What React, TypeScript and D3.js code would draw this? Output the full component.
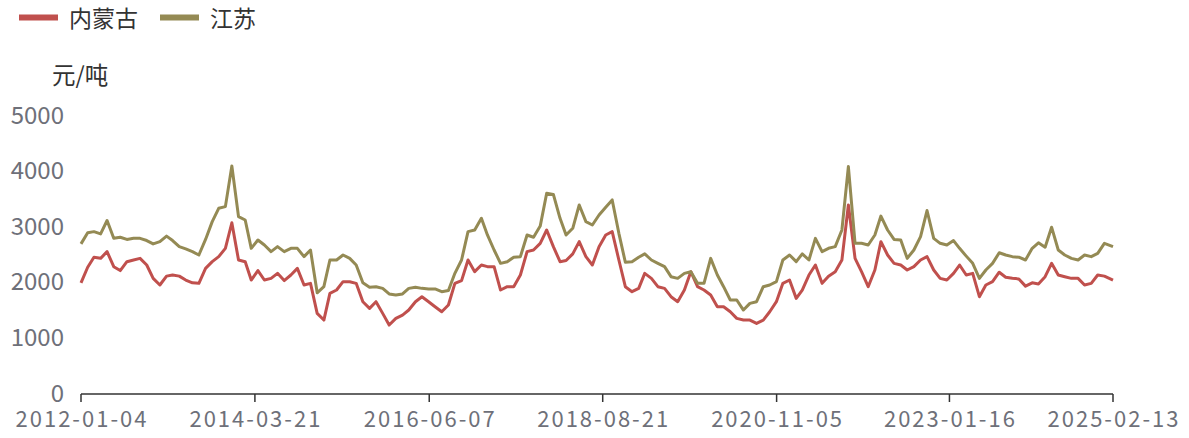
import React from "react";
import * as d3 from "d3";

// monthly samples (4th of each month, 2012-01 .. 2025-01) plus the last day shown
const startDay = new Date(2012, 0, 4);
const lastDay = new Date(2025, 1, 13);
const dates: Date[] = [
  ...d3.timeMonth.range(new Date(2012, 0, 1), new Date(2025, 1, 1)).map(d => new Date(d.getFullYear(), d.getMonth(), 4)),
  lastDay,
];

const seriesNames = ["内蒙古", "江苏"];
const seriesColors = ["#c0504d", "#948a54"];

// 元/吨
const neimenggu = [
  2000, 2280, 2460, 2440, 2560, 2290, 2220, 2380, 2410, 2440, 2320, 2080,
  1960, 2120, 2140, 2120, 2050, 2000, 1990, 2260, 2380, 2470, 2620, 3080,
  2410, 2380, 2050, 2220, 2050, 2080, 2170, 2040, 2140, 2260, 1960, 1990,
  1450, 1330, 1810, 1870, 2020, 2020, 1990, 1660, 1540, 1660, 1450, 1240,
  1360, 1420, 1510, 1660, 1750, 1660, 1570, 1480, 1600, 1990, 2040, 2410,
  2200, 2320, 2290, 2290, 1870, 1930, 1930, 2140, 2560, 2590, 2710, 2950,
  2650, 2380, 2400, 2520, 2740, 2470, 2320, 2650, 2860, 2920, 2410, 1930,
  1840, 1900, 2170, 2080, 1930, 1900, 1750, 1660, 1870, 2200, 1930, 1870,
  1780, 1570, 1570, 1480, 1360, 1330, 1330, 1270, 1330, 1480, 1660, 1990,
  2050, 1720, 1870, 2140, 2320, 1990, 2120, 2200, 2410, 3400, 2440, 2200,
  1930, 2230, 2740, 2500, 2350, 2320, 2230, 2290, 2410, 2470, 2230, 2080,
  2050, 2170, 2320, 2140, 2170, 1750, 1960, 2020, 2190, 2100, 2080, 2070,
  1940, 2000, 1980, 2110, 2350, 2140, 2110, 2080, 2080, 1960, 1990, 2140,
  2120, 2050,
];

const jiangsu = [
  2700, 2900, 2920, 2880, 3120, 2800, 2820, 2780, 2800, 2800, 2760, 2700,
  2740, 2840, 2760, 2650, 2610, 2560, 2500, 2780, 3100, 3340, 3370, 4100,
  3190, 3130, 2620, 2770, 2680, 2560, 2650, 2560, 2620, 2620, 2470, 2590,
  1820, 1930, 2410, 2410, 2500, 2440, 2320, 2000, 1920, 1930, 1900, 1800,
  1780, 1800, 1900, 1920, 1900, 1890, 1890, 1840, 1860, 2170, 2410, 2920,
  2950, 3160, 2860, 2590, 2350, 2380, 2460, 2470, 2860, 2820, 3020, 3610,
  3590, 3160, 2860, 2980, 3400, 3100, 3040, 3220, 3360, 3490, 2890, 2370,
  2380, 2460, 2520, 2410, 2350, 2290, 2110, 2080, 2170, 2200, 1990, 1990,
  2440, 2140, 1930, 1690, 1690, 1510, 1630, 1660, 1930, 1960, 2020, 2410,
  2500, 2380, 2520, 2410, 2800, 2560, 2620, 2650, 2950, 4090, 2710, 2710,
  2680, 2860, 3200, 2950, 2780, 2770, 2440, 2590, 2830, 3300, 2800, 2710,
  2680, 2760, 2620, 2480, 2350, 2080, 2230, 2350, 2540, 2500, 2470, 2460,
  2410, 2620, 2720, 2640, 3000, 2590, 2500, 2440, 2410, 2500, 2470, 2530,
  2710, 2650,
];

const yTicks = [0, 1000, 2000, 3000, 4000, 5000];
const xTickLabels = ["2012-01-04", "2014-03-21", "2016-06-07", "2018-08-21", "2020-11-05", "2023-01-16", "2025-02-13"];

const width = 1189;
const height = 438;
const margin = { top: 116, right: 76, bottom: 44, left: 81 };
const font = "'Noto Sans CJK SC', 'Noto Sans', sans-serif";

export default function App() {
  const parse = d3.timeParse("%Y-%m-%d");

  const x = d3.scaleTime()
    .domain([startDay, lastDay])
    .range([margin.left, width - margin.right]);

  const y = d3.scaleLinear()
    .domain([0, 5000])
    .range([height - margin.bottom, margin.top]);

  const line = d3.line<number>()
    .x((_, i) => x(dates[i]))
    .y(d => y(d));

  const baseY = y(0);

  return (
    <svg width={width} height={height} style={{ position: "absolute", left: 0, top: 0, background: "#fff" }} fontFamily={font}>
      {/* legend */}
      {seriesNames.map((name, i) => {
        const lx = i === 0 ? 19 : 160;
        return (
          <g key={name}>
            <rect x={lx} y={14.5} width={39} height={6} fill={seriesColors[i]} />
            <text x={lx + 50} y={27} fontSize={23} fill="#333">{name}</text>
          </g>
        );
      })}

      {/* unit */}
      <text x={52} y={84} fontSize={23.5} fill="#333">元/吨</text>

      {/* y labels */}
      {yTicks.map(t => (
        <text key={t} x={64} y={y(t) + 7.5} fontSize={24} fill="#6e7079" textAnchor="end">{t}</text>
      ))}

      {/* x axis */}
      <line x1={margin.left} x2={width - margin.right} y1={baseY} y2={baseY} stroke="#333" strokeWidth={1.5} />
      {xTickLabels.map(lbl => {
        const tx = x(parse(lbl) as Date);
        return (
          <g key={lbl}>
            <line x1={tx} x2={tx} y1={baseY} y2={baseY + 8} stroke="#333" strokeWidth={1.5} />
            <text x={tx + 1} y={427} fontSize={22} letterSpacing={2} fill="#6e7079" textAnchor="middle">{lbl}</text>
          </g>
        );
      })}

      {/* series */}
      {[neimenggu, jiangsu].map((vals, i) => (
        <path key={i} d={line(vals) ?? ""} fill="none" stroke={seriesColors[i]} strokeWidth={3} strokeLinejoin="round" />
      ))}
    </svg>
  );
}
